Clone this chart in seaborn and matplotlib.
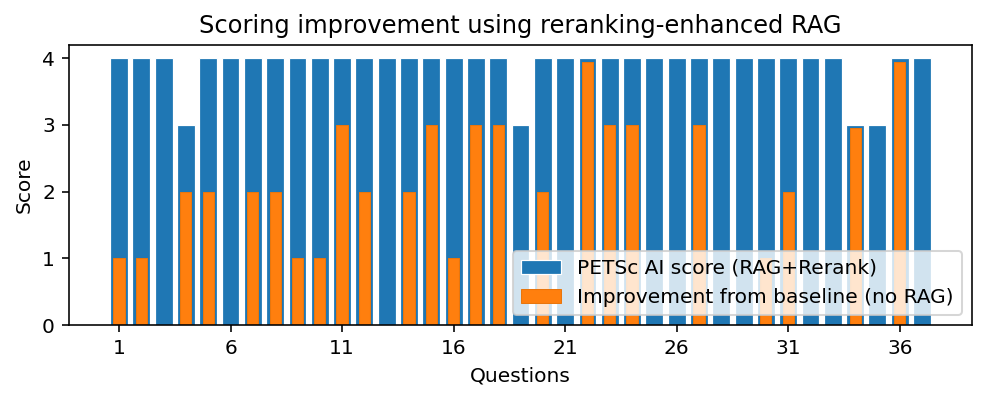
import matplotlib
matplotlib.use("Agg")
import matplotlib.pyplot as plt
import seaborn as sns
import pandas as pd

questions = list(range(1, 38))
rag_rerank_score = [4, 4, 4, 3, 4, 4, 4, 4, 4, 4,
                    4, 4, 4, 4, 4, 4, 4, 4, 3, 4,
                    4, 4, 4, 4, 4, 4, 4, 4, 4, 4,
                    4, 4, 4, 3, 3, 4, 4]
improvement = [1, 1, 0, 2, 2, 0, 2, 2, 1, 1,
               3, 2, 0, 2, 3, 1, 3, 3, 0, 2,
               0, 3.95, 3, 3, 0, 0, 3, 0, 0, 1,
               2, 0, 0, 2.95, 0, 3.95, 0]
xticks = [1, 6, 11, 16, 21, 26, 31, 36]

df = pd.DataFrame({"Question": questions,
                   "Score": rag_rerank_score,
                   "Improvement": improvement})

DPI = 145
plt.rcParams["font.family"] = ["DejaVu Sans"]
fig = plt.figure(figsize=(986 / DPI, 401 / DPI), dpi=DPI)
ax = fig.add_axes([0.070, 0.1895, 0.9158, 0.6983])

sns.barplot(data=df, x="Question", y="Score", native_scale=True,
            color="#1f77b4", saturation=1, width=0.8,
            edgecolor="white", linewidth=0.6,
            label="PETSc AI score (RAG+Rerank)", ax=ax)
sns.barplot(data=df, x="Question", y="Improvement", native_scale=True,
            color="#ff7f0e", saturation=1, width=0.5,
            edgecolor="#e8760d", linewidth=0.5,
            label="Improvement from baseline (no RAG)", ax=ax)

ax.set_xlim(-1.24, 39.24)
ax.set_ylim(0, 4.2)
ax.set_xticks(xticks)
ax.set_xticklabels([str(t) for t in xticks])
ax.set_yticks([0, 1, 2, 3, 4])
ax.set_xlabel("Questions", fontsize=10)
ax.set_ylabel("Score", fontsize=10)
ax.set_title("Scoring improvement using reranking-enhanced RAG", fontsize=12)
ax.tick_params(labelsize=10)
ax.legend(loc="lower right", fontsize=10)

fig.savefig("out.png", dpi=DPI)
